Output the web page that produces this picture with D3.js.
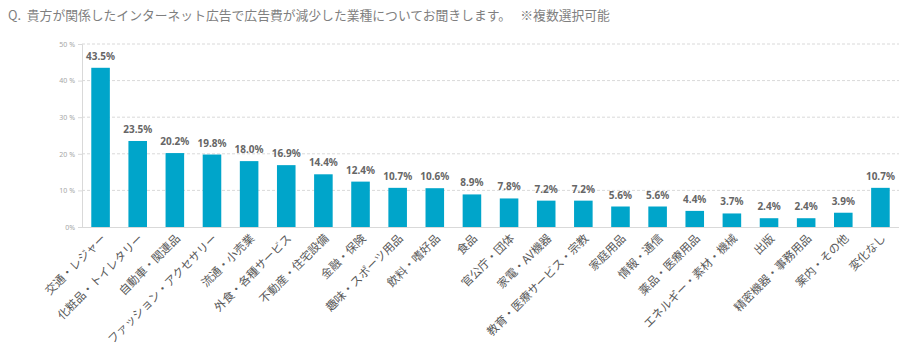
<!DOCTYPE html>
<html><head><meta charset="utf-8">
<script src="https://cdn.jsdelivr.net/npm/d3@7"></script>
<style>body{margin:0;background:#fff;font-family:"Noto Sans CJK JP","Noto Sans",sans-serif;}</style>
</head><body><svg id="c" width="914" height="358"></svg>
<script>
const categories=["交通・レジャー","化粧品・トイレタリー","自動車・関連品","ファッション・アクセサリー","流通・小売業","外食・各種サービス","不動産・住宅設備","金融・保険","趣味・スポーツ用品","飲料・嗜好品","食品","官公庁・団体","家電・AV機器","教育・医療サービス・宗教","家庭用品","情報・通信","薬品・医療用品","エネルギー・素材・機械","出版","精密機器・事務用品","案内・その他","変化なし"];
const values=[43.5,23.5,20.2,19.8,18.0,16.9,14.4,12.4,10.7,10.6,8.9,7.8,7.2,7.2,5.6,5.6,4.4,3.7,2.4,2.4,3.9,10.7];
const yTicks=[0,10,20,30,40,50];
const title="Q.  貴方が関係したインターネット広告で広告費が減少した業種についてお聞きします。　 ※複数選択可能";

const svg=d3.select("#c");
const x=d3.scaleBand().domain(categories).range([82,899]).paddingInner(0.5).paddingOuter(0.25);
const y=d3.scaleLinear().domain([0,50]).range([227,44]);

svg.append("text").attr("x",8).attr("y",20).attr("fill","#7f7f7f").attr("font-size",12.8)
 .attr("xml:space","preserve").style("white-space","pre").text(title);

svg.append("g").selectAll("line").data(yTicks.filter(d=>d>0)).join("line")
 .attr("x1",82).attr("x2",899).attr("y1",d=>y(d)).attr("y2",d=>y(d))
 .attr("stroke","#d9d9d9").attr("stroke-dasharray","3,2").attr("stroke-width",1);

const ya=svg.append("g").attr("transform","translate(82,0)")
 .call(d3.axisLeft(y).tickValues(yTicks).tickSize(4).tickFormat(d=>d===0?"0%":d+" %"));
ya.select(".domain").attr("stroke","#d9d9d9");
ya.selectAll(".tick line").attr("stroke","#d9d9d9");
ya.selectAll(".tick text").attr("fill","#a6a6a6").attr("font-size",7).attr("font-family","Noto Sans, sans-serif");

svg.append("line").attr("x1",82).attr("x2",899).attr("y1",y(0)+0.5).attr("y2",y(0)+0.5).attr("stroke","#d9d9d9");

svg.append("g").selectAll("rect").data(values).join("rect")
 .attr("x",(d,i)=>x(categories[i])).attr("width",x.bandwidth())
 .attr("y",d=>y(d)).attr("height",d=>y(0)-y(d)).attr("fill","#00a5ca");

svg.append("g").selectAll("text").data(values).join("text")
 .attr("x",(d,i)=>x(categories[i])+x.bandwidth()/2).attr("y",d=>y(d)-8)
 .attr("text-anchor","middle").attr("font-size",10).attr("font-weight","bold").attr("fill","#666")
 .attr("font-family","Noto Sans, sans-serif")
 .text(d=>d.toFixed(1)+"%");

svg.append("g").selectAll("text").data(categories).join("text")
 .attr("transform",d=>`translate(${x(d)+x.bandwidth()/2+6},${y(0)+12}) rotate(-45)`)
 .attr("text-anchor","end").attr("font-size",11.5).attr("fill","#595959")
 .text(d=>d);
</script></body></html>
